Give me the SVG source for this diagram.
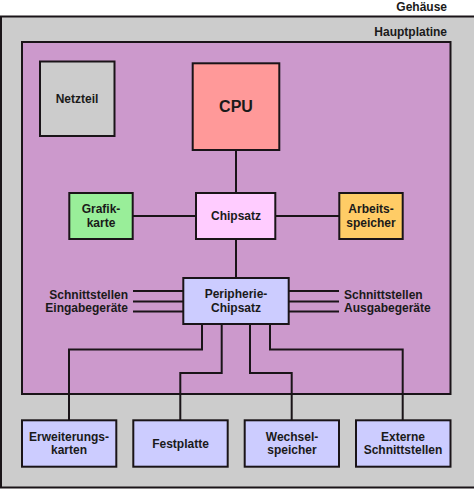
<svg xmlns="http://www.w3.org/2000/svg" width="474" height="490" viewBox="0 0 474 490">
<style>
.box{stroke:#1a1418;stroke-width:2}
.t{font-family:"Liberation Sans",Arial,sans-serif;font-weight:bold;font-size:12px;fill:#1a1a1a;text-anchor:middle}
.l{font-family:"Liberation Sans",Arial,sans-serif;font-weight:bold;font-size:12px;fill:#1a1a1a}
.c{fill:none;stroke:#1a1418;stroke-width:2}
.p{fill:#ccccff}
</style>
<rect width="474" height="490" fill="#ffffff"/>
<g id="gehaeuse">
<rect x="1" y="16.5" width="474" height="471" fill="#cccccc" class="box"/>
<text x="447" y="11" class="l" text-anchor="end" style="font-size:12px">Gehäuse</text>
</g>
<g id="hauptplatine">
<rect x="22" y="42" width="428.5" height="352" fill="#cc99cc" class="box"/>
<text x="447" y="36" class="l" text-anchor="end">Hauptplatine</text>
</g>
<g id="connectors">
<path class="c" d="M236 150V193M236 239V278M133 216H196M275 216H339"/>
<path class="c" d="M133 291H183M133 301.5H183M133 311.5H183M289 291H339M289 301.5H339M289 311.5H339"/>
<path class="c" d="M202 324V349.5H69V420M221.7 324V373H180.3V420M250 324V373H291.7V420M270 324V349.5H402.7V420"/>
</g>
<g id="netzteil">
<rect x="40" y="61.5" width="74.5" height="74.5" fill="#cccccc" class="box"/>
<text x="77" y="103" class="t">Netzteil</text>
</g>
<g id="cpu">
<rect x="192.7" y="63.3" width="86.6" height="86.7" fill="#ff9999" class="box"/>
<text x="236" y="112" class="t" style="font-size:16px">CPU</text>
</g>
<g id="chipsatz">
<rect x="196" y="193" width="79.3" height="46" fill="#ffccff" class="box"/>
<text x="236" y="220" class="t">Chipsatz</text>
</g>
<g id="grafikkarte">
<rect x="69.3" y="193" width="63.4" height="46" fill="#99ee99" class="box"/>
<text x="101" y="213" class="t">Grafik-</text>
<text x="101" y="226.5" class="t">karte</text>
</g>
<g id="arbeitsspeicher">
<rect x="339.3" y="193" width="63.4" height="46" fill="#ffcc66" class="box"/>
<text x="371" y="213" class="t">Arbeits-</text>
<text x="371" y="226.5" class="t">speicher</text>
</g>
<g id="peripherie-chipsatz">
<rect x="183.3" y="278" width="105.4" height="46" class="box p"/>
<text x="236" y="298" class="t">Peripherie-</text>
<text x="236" y="311.5" class="t">Chipsatz</text>
</g>
<g id="label-eingabe">
<text x="128" y="298.5" class="l" text-anchor="end">Schnittstellen</text>
<text x="128" y="311.5" class="l" text-anchor="end">Eingabegeräte</text>
</g>
<g id="label-ausgabe">
<text x="344" y="298.5" class="l">Schnittstellen</text>
<text x="344" y="311.5" class="l">Ausgabegeräte</text>
</g>
<g id="erweiterungskarten">
<rect x="22" y="420.3" width="94.3" height="46.4" class="box p"/>
<text x="69" y="440.5" class="t">Erweiterungs-</text>
<text x="69" y="454" class="t">karten</text>
</g>
<g id="festplatte">
<rect x="133.3" y="420.3" width="94.4" height="46.4" class="box p"/>
<text x="180.5" y="447.5" class="t">Festplatte</text>
</g>
<g id="wechselspeicher">
<rect x="244.7" y="420.3" width="94.3" height="46.4" class="box p"/>
<text x="292" y="440.5" class="t">Wechsel-</text>
<text x="292" y="454" class="t">speicher</text>
</g>
<g id="externe-schnittstellen">
<rect x="356" y="420.3" width="94.5" height="46.4" class="box p"/>
<text x="403" y="440.5" class="t">Externe</text>
<text x="403" y="454" class="t">Schnittstellen</text>
</g>
</svg>
